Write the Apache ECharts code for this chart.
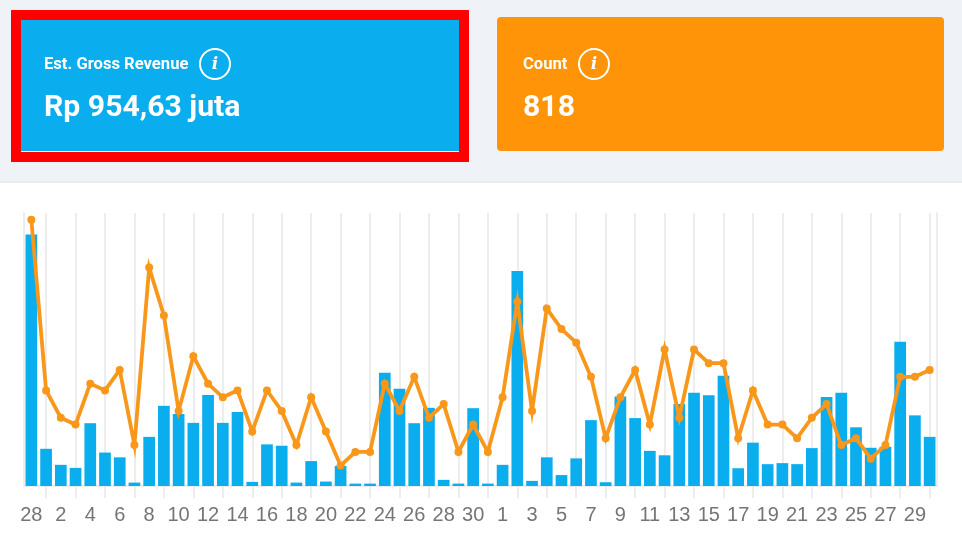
<!DOCTYPE html>
<html>
<head>
<meta charset="utf-8">
<script src="https://cdn.jsdelivr.net/npm/echarts@6/dist/echarts.min.js"></script>
<style>
  html, body { margin: 0; padding: 0; background: #fff; }
  #chart { width: 962px; height: 549px; }
</style>
</head>
<body>
<div id="chart"></div>
<script>
// Daily labels: 28 Feb, then all of March and April
const categories = [
  '28','1','2','3','4','5','6','7','8','9','10','11','12','13','14','15',
  '16','17','18','19','20','21','22','23','24','25','26','27','28','29','30','31',
  '1','2','3','4','5','6','7','8','9','10','11','12','13','14','15',
  '16','17','18','19','20','21','22','23','24','25','26','27','28','29','30'
];
// Estimated gross revenue per day, in juta rupiah
const revenue = [
  73.7,10.9,6.2,5.3,18.4,9.8,8.4,1.0,14.4,23.5,21.1,18.5,26.7,18.5,21.7,1.2,
  12.2,11.8,1.0,7.3,1.3,5.9,0.7,0.7,33.2,28.5,18.4,22.9,1.8,0.7,22.8,0.7,
  6.2,63.0,1.5,8.4,3.2,8.1,19.3,1.1,26.2,19.9,10.3,9.0,24.0,27.3,26.6,32.3,
  5.2,12.7,6.4,6.7,6.4,11.1,26.1,27.3,17.2,11.2,11.5,42.3,20.7,14.4
];
// Number of orders per day
const count = [
  39,14,10,9,15,14,17,6,32,25,11,19,15,13,14,8,
  14,11,6,13,8,3,5,5,15,11,16,10,12,5,9,5,
  13,27,11,26,23,21,16,7,13,17,9,20,10,20,18,18,
  7,14,9,9,7,10,12,6,7,4,6,16,16,17
];
const revenueTitle = 'Est. Gross Revenue';
const revenueTotal = 'Rp 954,63 juta';
const countTitle = 'Count';
const countTotal = '818';

const BLUE = '#0aadee';
const ORANGE = '#ff9409';
const LINE = '#f8971a';
const GRID = '#e7e7e7';

const isOdd = (i) => i % 2 === 1;
const isEven = (i) => i % 2 === 0;

function card(x, title, total, iconX) {
  return [
    { type: 'text', x, y: 65, style: { text: title, fill: '#fff', font: '700 16.6px Roboto', verticalAlign: 'middle' } },
    { type: 'text', x, y: 108, style: { text: total, fill: '#fff', font: '700 30.2px Roboto', verticalAlign: 'middle' } },
    { type: 'circle', shape: { cx: iconX, cy: 64, r: 15 }, style: { fill: 'none', stroke: '#fff', lineWidth: 2 } },
    { type: 'text', x: iconX, y: 65, style: { text: 'i', fill: '#fff', font: 'italic 700 17px "DejaVu Serif"', align: 'center', verticalAlign: 'middle' } }
  ];
}

const chart = echarts.init(document.getElementById('chart'), null, { renderer: 'canvas' });
chart.setOption({
  animation: false,
  backgroundColor: '#fff',
  graphic: [
    // page band behind the two summary cards
    { type: 'rect', z: -10, shape: { x: 0, y: 0, width: 962, height: 181 }, style: { fill: '#eff3f7' } },
    { type: 'rect', z: -10, shape: { x: 0, y: 181, width: 962, height: 2 }, style: { fill: '#e9ecef' } },
    // highlighted revenue card
    { type: 'rect', z: -9, shape: { x: 11, y: 10, width: 458, height: 152 }, style: { fill: '#ff0000' } },
    { type: 'rect', z: -9, shape: { x: 21, y: 20, width: 438, height: 131 }, style: { fill: BLUE } },
    { type: 'rect', z: -9, shape: { x: 21, y: 151, width: 438, height: 1 }, style: { fill: '#e6eef2' } },
    // count card
    { type: 'rect', z: -9, shape: { x: 497, y: 17, width: 447, height: 134, r: 4 }, style: { fill: ORANGE } },
    ...card(44, revenueTitle, revenueTotal, 215),
    ...card(523, countTitle, countTotal, 594)
  ],
  grid: { left: 24, right: 25, top: 213, bottom: 63 },
  xAxis: {
    type: 'category',
    data: categories,
    axisLine: { show: true, lineStyle: { color: GRID, width: 1.5 } },
    axisTick: { show: true, alignWithLabel: true, interval: (i) => isOdd(i), length: 12, lineStyle: { color: GRID, width: 1.5 } },
    splitLine: { show: true, alignWithLabel: true, interval: (i) => isOdd(i), lineStyle: { color: GRID, width: 1.5 } },
    axisLabel: {
      interval: (i) => isEven(i),
      hideOverlap: false,
      color: '#757575',
      fontFamily: '"Liberation Sans"',
      fontSize: 20,
      margin: 19
    }
  },
  yAxis: [
    {
      type: 'value', min: 0, max: 80,
      axisLine: { show: true, lineStyle: { color: GRID, width: 1.5 } },
      axisTick: { show: false }, axisLabel: { show: false }, splitLine: { show: false }
    },
    {
      type: 'value', min: 0, max: 40, position: 'right',
      axisLine: { show: true, lineStyle: { color: GRID, width: 1.5 } },
      axisTick: { show: false }, axisLabel: { show: false }, splitLine: { show: false }
    }
  ],
  series: [
    {
      name: revenueTitle, type: 'bar', data: revenue, yAxisIndex: 0,
      barWidth: 11.7, itemStyle: { color: BLUE }
    },
    {
      name: countTitle, type: 'line', data: count, yAxisIndex: 1,
      symbol: 'circle', symbolSize: 8, showAllSymbol: true,
      lineStyle: { color: LINE, width: 3.8, join: 'miter' },
      itemStyle: { color: LINE }
    }
  ]
});
</script>
</body>
</html>
